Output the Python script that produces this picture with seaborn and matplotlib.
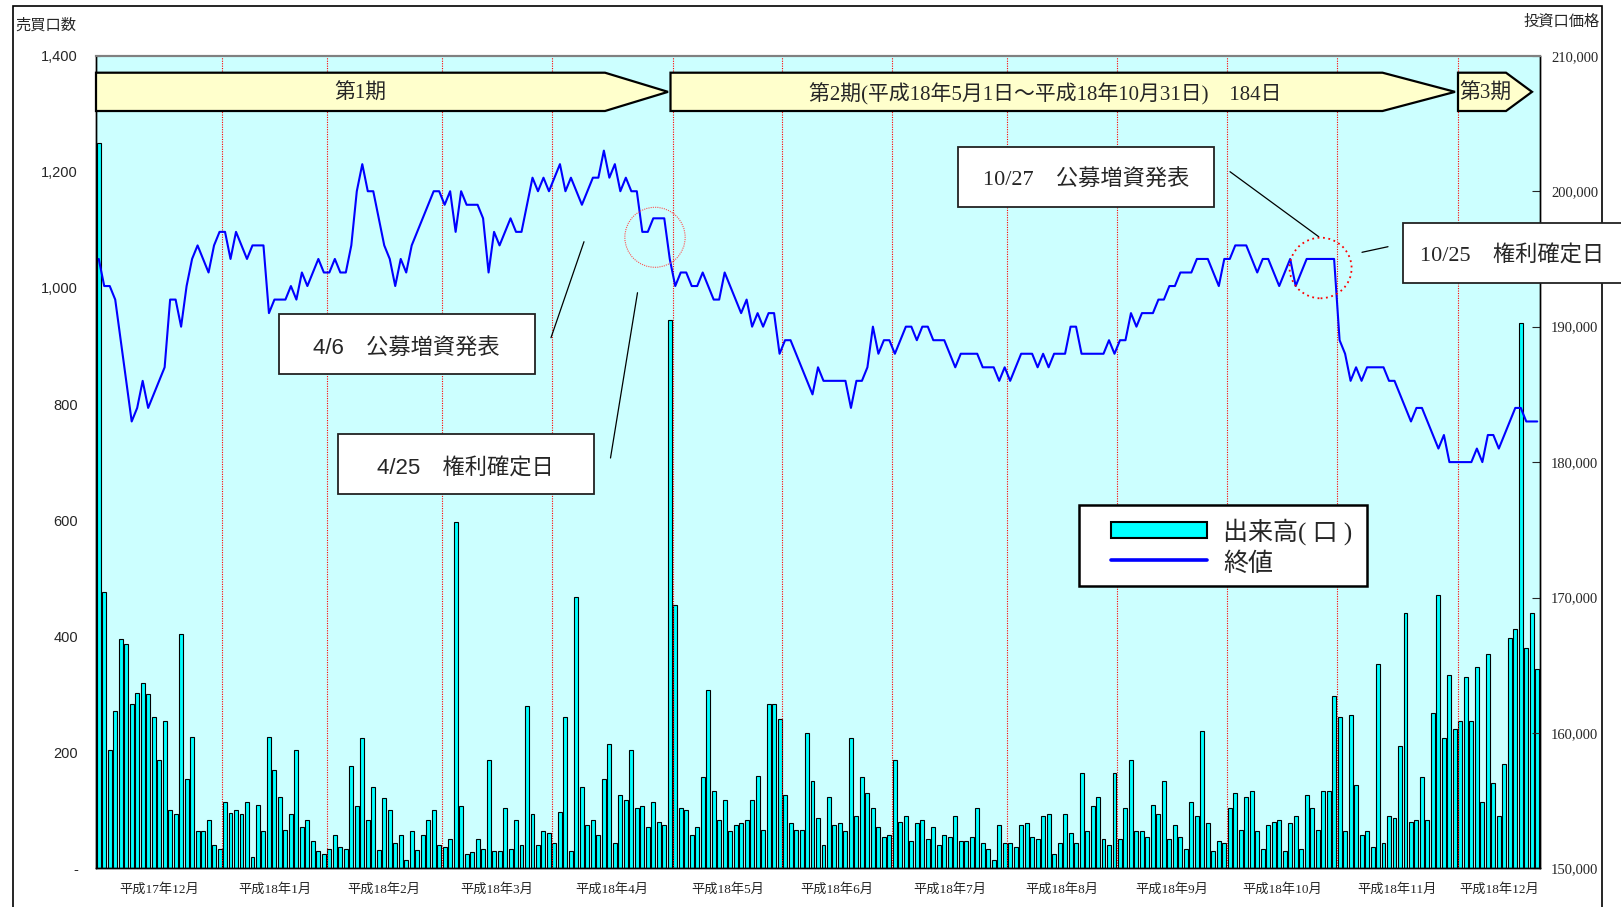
"""
Trading volume and closing price of the investment units, Dec 2005 - Dec 2006.
Bars: daily volume (left axis), line: closing price (right axis).
"""

import numpy as np
import matplotlib
matplotlib.use("Agg")
import matplotlib.pyplot as plt
import matplotlib.patches as mpatches
from matplotlib.lines import Line2D
from matplotlib.ticker import FuncFormatter, MultipleLocator
import seaborn as sns

# ---- data --------------------------------------------------------------
months = ["平成17年12月", "平成18年1月", "平成18年2月", "平成18年3月",
          "平成18年4月", "平成18年5月", "平成18年6月", "平成18年7月",
          "平成18年8月", "平成18年9月", "平成18年10月", "平成18年11月",
          "平成18年12月"]

# daily volume (units), one list per month
vol_dec05 = [1250, 477, 204, 271, 396, 386, 284, 303, 320, 300, 261, 187,
             254, 100, 94, 403, 154, 227, 64, 64, 84, 41, 33]
vol_jan = [114, 96, 100, 94, 114, 20, 110, 64, 227, 170, 123, 67, 94, 204,
           71, 84, 48, 30, 24]
vol_feb = [33, 57, 37, 33, 177, 107, 224, 84, 141, 32, 121, 100, 44, 57, 14,
           64, 32, 57, 84, 100, 41]
vol_mar = [37, 51, 597, 107, 24, 28, 51, 34, 187, 30, 30, 104, 34, 84, 41,
           280, 94, 41, 64, 61]
vol_apr = [44, 97, 261, 30, 467, 141, 74, 84, 57, 154, 214, 44, 127, 117,
           204, 104, 107, 71, 114, 80, 74, 945]
vol_may = [453, 104, 100, 57, 71, 157, 307, 134, 84, 117, 64, 74, 78, 84,
           117, 160, 67, 284, 284, 257]
vol_jun = [127, 78, 67, 67, 234, 150, 87, 41, 123, 74, 78, 64, 224, 91, 157,
           130, 104, 71, 54, 57]
vol_jul = [187, 80, 91, 48, 78, 84, 51, 71, 41, 57, 54, 91, 48, 48, 54, 104,
           44, 34, 14, 74, 44]
vol_aug = [44, 37, 74, 78, 54, 51, 91, 94, 24, 44, 94, 61, 44, 164, 64, 107,
           123, 51, 41, 164]
vol_sep = [51, 104, 187, 64, 64, 54, 110, 94, 150, 51, 74, 54, 34, 114, 91,
           237, 78, 30, 48, 44]
vol_oct = [104, 130, 67, 123, 134, 64, 34, 74, 80, 84, 30, 78, 91, 34, 127,
           104, 67, 134, 134, 297]
vol_nov = [261, 64, 264, 144, 57, 64, 37, 353, 44, 91, 87, 211, 440, 80, 84,
           157, 84, 267, 471, 224, 334, 240]
vol_dec06 = [254, 330, 254, 347, 114, 370, 147, 91, 180, 397, 413, 940, 380,
             440, 343]

# closing price (thousand yen), one list per month
px_dec05 = [195, 193, 193, 192, 189, 186, 183, 184, 186, 184, 185, 186, 187,
            192, 192, 190, 193, 195, 196, 195, 194, 196, 197]
px_jan = [197, 195, 197, 196, 195, 196, 196, 196, 191, 192, 192, 192, 193,
          192, 194, 193, 194, 195, 194]
px_feb = [194, 195, 194, 194, 196, 200, 202, 200, 200, 198, 196, 195, 193,
          195, 194, 196, 197, 198, 199, 200, 200]
px_mar = [199, 200, 197, 200, 199, 199, 199, 198, 194, 197, 196, 197, 198,
          197, 197, 199, 201, 200, 201, 200]
px_apr = [201, 202, 200, 201, 200, 199, 200, 201, 201, 203, 201, 202, 200,
          201, 200, 200, 197, 197, 198, 198, 198, 195]
px_may = [193, 194, 194, 193, 193, 194, 193, 192, 192, 194, 193, 192, 191,
          192, 190, 191, 190, 191, 191, 188]
px_jun = [189, 189, 188, 187, 186, 185, 187, 186, 186, 186, 186, 186, 184,
          186, 186, 187, 190, 188, 189, 189]
px_jul = [188, 189, 190, 190, 189, 190, 190, 189, 189, 189, 188, 187, 188,
          188, 188, 188, 187, 187, 187, 186, 187]
px_aug = [186, 187, 188, 188, 188, 187, 188, 187, 188, 188, 188, 190, 190,
          188, 188, 188, 188, 188, 189, 188]
px_sep = [189, 189, 191, 190, 191, 191, 191, 192, 192, 193, 193, 194, 194,
          194, 195, 195, 195, 194, 193, 195]
px_oct = [195, 196, 196, 196, 195, 194, 195, 195, 194, 193, 194, 195, 193,
          194, 195, 195, 195, 195, 195, 195]
px_nov = [189, 188, 186, 187, 186, 187, 187, 187, 187, 186, 186, 185, 184,
          183, 184, 184, 183, 182, 181, 182, 180, 180]
px_dec06 = [180, 180, 180, 181, 180, 182, 182, 181, 182, 183, 184, 184, 183,
            183, 183]

vol_months = [vol_dec05, vol_jan, vol_feb, vol_mar, vol_apr, vol_may, vol_jun,
              vol_jul, vol_aug, vol_sep, vol_oct, vol_nov, vol_dec06]
px_months = [px_dec05, px_jan, px_feb, px_mar, px_apr, px_may, px_jun,
             px_jul, px_aug, px_sep, px_oct, px_nov, px_dec06]

volume = np.concatenate(vol_months)
close = np.concatenate(px_months) * 1000
days = np.arange(len(volume))
counts = np.array([len(m) for m in vol_months])
month_end = np.cumsum(counts)
month_mid = month_end - counts / 2 - 0.5

# ---- styling -------------------------------------------------------------
W, H = 1621, 907
sns.set_style("ticks")
JP_SANS = ["Liberation Sans", "Noto Sans CJK JP"]
JP_SERIF = ["Liberation Serif", "Noto Sans CJK JP"]
plt.rcParams["font.family"] = JP_SANS


def fx(x):
    return x / W


def fy(y):
    return 1 - y / H


fig = plt.figure(figsize=(W / 100, H / 100), dpi=100)
fig.patch.set_facecolor("white")

ax = fig.add_axes([fx(96), fy(868.4), (1540 - 96) / W, (868.4 - 55.8) / H])
ax.set_facecolor("#CCFFFF")

sns.barplot(x=days, y=volume, color="#00FFFF", saturation=1,
            edgecolor="black", linewidth=0.8, width=0.72, errorbar=None, ax=ax)
ax.set_xlim(-0.5, len(days) - 0.5)
ax.set_ylim(0, 1400)
ax.yaxis.set_major_locator(MultipleLocator(200))
ax.yaxis.set_major_formatter(
    FuncFormatter(lambda v, p: "-" if v == 0 else f"{int(v):,}"))
ax.set_xlabel("")
ax.set_ylabel("")

for e in month_end[:-1]:
    ax.axvline(e - 0.5, color="red", ls=(0, (1, 1.2)), lw=0.8, zorder=3)

ax.set_xticks(month_mid)
ax.set_xticklabels(months, family=JP_SERIF, fontsize=9.5)
ax.tick_params(axis="x", length=0, pad=10.5)
ax.tick_params(axis="y", direction="in", length=3, pad=13, labelsize=10.5)

ax2 = ax.twinx()
sns.lineplot(x=days, y=close, color="#0000FF", linewidth=1.5, errorbar=None,
             sort=False, legend=False, ax=ax2)
ax2.set_ylim(150000, 210000)
ax2.yaxis.set_major_locator(MultipleLocator(10000))
ax2.yaxis.set_major_formatter(FuncFormatter(lambda v, p: f"{int(v):,}"))
ax2.set_ylabel("")
ax2.tick_params(axis="y", direction="in", length=6, pad=8)
for lab in ax2.get_yticklabels():
    lab.set_family("Liberation Serif")
    lab.set_fontsize(10.5)

for a in (ax, ax2):
    for side in ("left", "right", "bottom"):
        a.spines[side].set_color("black")
        a.spines[side].set_linewidth(1.0)
    a.spines["top"].set_color("#808080")
    a.spines["top"].set_linewidth(1.5)

# axis titles
fig.text(fx(15), fy(25), "売買口数", fontsize=11, va="center", ha="left",
         family="Noto Sans CJK JP")
fig.text(fx(1600), fy(21), "投資口価格", fontsize=11, va="center", ha="right",
         family="Noto Sans CJK JP")

# outer frame
fig.add_artist(mpatches.Rectangle((fx(12.5), fy(912)), (1602 - 12.5) / W,
                                  (912 - 6) / H, transform=fig.transFigure,
                                  fill=False, ec="black", lw=1.2, zorder=1))


# period banners
def banner(x0, xb, xt, y0=72.7, y1=111):
    pts = [(x0, y0), (xb, y0), (xt, (y0 + y1) / 2), (xb, y1), (x0, y1)]
    fig.add_artist(mpatches.Polygon([(fx(a), fy(b)) for a, b in pts],
                                    closed=True, transform=fig.transFigure,
                                    fc="#FFFFCC", ec="black", lw=1.6,
                                    zorder=5))


banner(96, 605, 668)
banner(670.5, 1382.5, 1455)
banner(1458, 1506, 1532)
fig.text(fx(360), fy(94), "第1期", fontsize=15, ha="center", va="center",
         family=JP_SERIF, zorder=6)
fig.text(fx(1045), fy(94), "第2期(平成18年5月1日～平成18年10月31日)　184日",
         fontsize=15, ha="center", va="center", family=JP_SERIF, zorder=6)
fig.text(fx(1485), fy(94), "第3期", fontsize=15, ha="center", va="center",
         family=JP_SERIF, zorder=6)


# annotation boxes
def note(x0, y0, x1, y1, tx, ty, s, family):
    fig.add_artist(mpatches.Rectangle((fx(x0), fy(y1)), (x1 - x0) / W,
                                      (y1 - y0) / H, transform=fig.transFigure,
                                      fc="white", ec="#222222", lw=1.3,
                                      zorder=6))
    fig.text(fx(tx), fy(ty), s, fontsize=16, ha="center", va="center",
             family=family, zorder=7)


def leader(x1, y1, x2, y2):
    fig.add_artist(Line2D([fx(x1), fx(x2)], [fy(y1), fy(y2)],
                          transform=fig.transFigure, color="black", lw=0.9,
                          zorder=6))


note(279, 313.5, 535, 374, 406, 349, "4/6　公募増資発表", JP_SANS)
note(338, 434, 594, 494, 465, 469, "4/25　権利確定日", JP_SANS)
note(958.4, 147, 1214, 207.3, 1086.5, 180.5, "10/27　公募増資発表", JP_SERIF)
note(1403, 222.7, 1640, 282.7, 1512, 256, "10/25　権利確定日", JP_SERIF)

leader(551, 337.7, 584, 241.7)
leader(610.5, 458, 637.5, 292.7)
leader(1230, 171.7, 1318.7, 236.7)
leader(1362, 252.3, 1388, 246.7)

# dotted circles around the record dates
fig.add_artist(mpatches.Ellipse((fx(655), fy(237.3)), 60.3 / W, 60 / H,
                                transform=fig.transFigure, fill=False,
                                ec="#FF5050", lw=0.8, ls=(0, (1, 1)),
                                zorder=6))
fig.add_artist(mpatches.Ellipse((fx(1320.6), fy(268)), 62 / W, 60.6 / H,
                                transform=fig.transFigure, fill=False,
                                ec="red", lw=1.3, ls=(0, (1, 2)), zorder=6))

# legend, laid out to match the reference box
fig.add_artist(mpatches.Rectangle((fx(1079), fy(586)), (1367 - 1079) / W,
                                  (586 - 504.5) / H, transform=fig.transFigure,
                                  fc="white", ec="black", lw=1.8, zorder=8))
fig.add_artist(mpatches.Rectangle((fx(1111), fy(538)), (1207 - 1111) / W,
                                  (538 - 521.5) / H, transform=fig.transFigure,
                                  fc="#00FFFF", ec="black", lw=1.5, zorder=9))
fig.add_artist(Line2D([fx(1111), fx(1207)], [fy(560), fy(560)],
                      transform=fig.transFigure, color="#0000FF", lw=2.6,
                      zorder=9))
fig.text(fx(1223), fy(532), "出来高( 口 )", fontsize=18, ha="left",
         va="center", family=JP_SERIF, zorder=9)
fig.text(fx(1223), fy(564), "終値", fontsize=18, ha="left", va="center",
         family=JP_SERIF, zorder=9)

fig.savefig("out.png", dpi=100)
